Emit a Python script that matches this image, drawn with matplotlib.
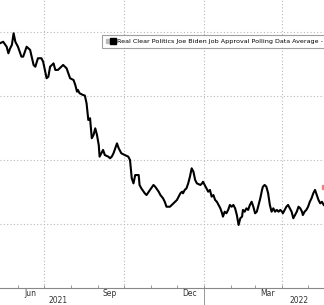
import numpy as np
import pandas as pd
import matplotlib
matplotlib.use("Agg")
from matplotlib import pyplot as plt
from matplotlib.lines import Line2D
from matplotlib.legend_handler import HandlerTuple

# RCP Biden job approval average (day offset from start, %)
start = pd.Timestamp("2021-05-11")
days = [0, 4, 8, 10, 12, 14, 16, 18, 20, 21, 25, 27, 31, 35, 39, 41, 44, 48, 50, 54,
        56, 58, 62, 64, 67, 69, 73, 77, 81, 85, 87, 89, 90, 92, 96, 98, 100, 102, 104, 106,
        108, 110, 112, 114, 115, 117, 119, 121, 125, 127, 129, 131, 133, 135, 137, 140, 144, 148, 150, 152,
        154, 156, 160, 161, 163, 167, 169, 173, 177, 179, 183, 185, 188, 190, 192, 196, 200, 204, 208, 210,
        211, 213, 215, 217, 219, 221, 223, 225, 227, 231, 233, 234, 236, 238, 240, 242, 244, 246, 248, 250,
        252, 254, 256, 257, 259, 261, 263, 265, 267, 269, 271, 273, 275, 277, 279, 280, 282, 284, 286, 288,
        290, 292, 294, 296, 298, 300, 302, 303, 305, 307, 309, 311, 313, 315, 317, 319, 321, 323, 325, 326,
        328, 330, 332, 334, 336, 338, 340, 342, 344, 346, 348, 349, 351, 353, 355, 357, 359, 361, 363, 365,
        367, 369, 371, 373]
approval = [53.29, 53.39, 53.08, 52.67, 52.98, 53.19, 53.92, 53.39, 53.19, 53.08, 52.46, 52.46, 53.08, 52.88, 51.94, 51.83, 52.36, 52.36, 52.14, 51.11,
            51.21, 51.83, 52.04, 51.63, 51.63, 51.73, 51.94, 51.73, 51.11, 51.00, 50.69, 50.27, 50.38, 50.17, 50.06, 50.03, 49.54, 48.50, 48.61, 47.36,
            47.56, 47.98, 47.56, 46.94, 46.21, 46.42, 46.63, 46.31, 46.21, 46.11, 46.21, 46.42, 46.73, 47.04, 46.73, 46.42, 46.31, 46.21, 46.00, 44.86,
            44.54, 45.06, 45.06, 44.44, 44.23, 43.92, 43.81, 44.13, 44.44, 44.33, 44.02, 43.81, 43.61, 43.39, 43.08, 43.08, 43.29, 43.50, 43.92, 44.02,
            43.92, 44.13, 44.23, 44.54, 44.96, 45.48, 45.27, 44.75, 44.54, 44.44, 44.54, 44.64, 44.44, 44.23, 44.02, 44.13, 43.71, 43.81, 43.50, 43.39,
            43.19, 42.98, 42.67, 42.46, 42.77, 42.67, 42.88, 43.19, 43.08, 43.19, 42.98, 42.56, 41.94, 42.36, 42.46, 42.88, 42.77, 42.98, 42.88, 43.19,
            43.39, 43.08, 42.67, 42.77, 43.19, 43.61, 44.13, 44.33, 44.44, 44.33, 43.92, 43.19, 42.77, 42.98, 42.77, 42.88, 42.77, 42.88, 42.77, 42.67,
            42.88, 43.08, 43.19, 42.98, 42.77, 42.36, 42.56, 42.77, 43.08, 42.98, 42.77, 42.56, 42.77, 42.88, 43.08, 43.39, 43.61, 43.92, 44.13, 43.81,
            43.50, 43.29, 43.39, 43.19]
last_label_value = 44.3

series_label = "Real Clear Politics Joe Biden Job Approval Polling Data Average -"
month_labels = ["Jun", "Sep", "Dec", "Mar"]
month_dates = ["2021-06-15", "2021-09-15", "2021-12-15", "2022-03-15"]
year_labels = ["2021", "2022"]
year_dates = ["2021-07-17", "2022-04-21"]
quarter_dates = ["2021-07-01", "2021-10-01", "2022-01-01", "2022-04-01"]
levels = [42, 46, 50, 54]

dates = start + pd.to_timedelta(days, unit="D")

font = ["Liberation Sans Narrow", "DejaVu Sans"]
plt.rcParams["font.family"] = font

fig = plt.figure(figsize=(3.24, 3.05), dpi=100)
ax = fig.add_axes([0, 1 - 288 / 305, 1, 288 / 305])

grid_kw = dict(color="#b8b8b8", linestyle=(0, (1, 2)), linewidth=0.8, zorder=0)
for q in quarter_dates:
    ax.axvline(pd.Timestamp(q), **grid_kw)
for lv in levels:
    ax.axhline(lv, **grid_kw)

ax.plot(dates, approval, color="black", linewidth=1.5, label=series_label, zorder=3)
ax.plot(dates[-1], last_label_value, marker="s", ms=2.5, color="#f08080",
        clip_on=False, zorder=2)

ax.set_xlim(pd.Timestamp("2021-05-11 08:00"), pd.Timestamp("2022-05-19 08:00"))
ax.set_ylim(38, 56)

for s in ["top", "left", "right"]:
    ax.spines[s].set_visible(False)
ax.spines["bottom"].set_color("#888888")
ax.spines["bottom"].set_linewidth(0.8)

ax.set_yticks([])
ax.set_xticks([pd.Timestamp(d) for d in month_dates])
ax.set_xticklabels(month_labels)
ax.tick_params(axis="x", which="major", length=0, pad=1, labelsize=5.5, labelcolor="#333333")
month_starts = pd.date_range("2021-06-01", "2022-05-01", freq="MS")
ax.set_xticks(month_starts, minor=True)
ax.tick_params(axis="x", which="minor", length=2, direction="in", color="#888888", width=0.6)

for lbl, d in zip(year_labels, year_dates):
    ax.text(pd.Timestamp(d), -0.045, lbl, transform=ax.get_xaxis_transform(),
            ha="center", va="center", fontsize=5.5, color="#333333", clip_on=False)
ax.axvline(pd.Timestamp("2022-01-01"), ymin=-0.07, ymax=0, color="#888888",
           linewidth=0.6, clip_on=False)

handle = (Line2D([], [], marker="s", color="#bbbbbb", ls="", ms=3),
          Line2D([], [], marker="s", color="black", ls="", ms=4))
leg = ax.legend([handle], [series_label], handler_map={tuple: HandlerTuple(ndivide=None, pad=0.2)},
                loc="upper left", bbox_to_anchor=(101.5 / 324, 1 - 35 / 305),
                bbox_transform=fig.transFigure, fontsize=4.6, frameon=True, fancybox=False,
                edgecolor="#888888", handlelength=1.6, handletextpad=0.3, borderpad=0.6,
                borderaxespad=0)
leg.get_frame().set_linewidth(0.8)

plt.savefig("out.png", dpi=100)
